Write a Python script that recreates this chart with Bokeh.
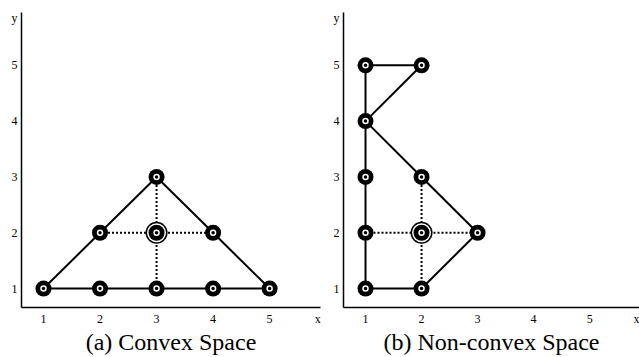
from bokeh.plotting import figure
from bokeh.layouts import row
from bokeh.models import Range1d, FixedTicker
from bokeh.embed import file_html
from bokeh.resources import INLINE

# ---- data ----
tick_vals = [1, 2, 3, 4, 5]

# (a) convex space
a_nodes_x = [1, 2, 3, 4, 5, 2, 4, 3]
a_nodes_y = [1, 1, 1, 1, 1, 2, 2, 3]
a_center = (3, 2)
a_solid = [((1, 1), (5, 1)), ((1, 1), (2, 2)), ((2, 2), (3, 3)),
           ((3, 3), (4, 2)), ((4, 2), (5, 1))]
a_dotted = [((2, 2), (4, 2)), ((3, 3), (3, 1))]

# (b) non-convex space
b_nodes_x = [1, 1, 1, 1, 1, 2, 2, 2, 3]
b_nodes_y = [1, 2, 3, 4, 5, 5, 3, 1, 2]
b_center = (2, 2)
b_solid = [((1, 1), (1, 5)), ((1, 5), (2, 5)), ((2, 5), (1, 4)),
           ((1, 4), (2, 3)), ((2, 3), (3, 2)), ((3, 2), (2, 1)),
           ((2, 1), (1, 1))]
b_dotted = [((1, 2), (3, 2)), ((2, 3), (2, 1))]

captions = ["(a) Convex Space", "(b) Non-convex Space"]

SERIF = "Liberation Serif"


def make_panel(width, border_left, border_right, x_start, x_end, x_lab_pos,
               nodes_x, nodes_y, center, solid, dotted, caption):
    p = figure(width=width, height=357, output_backend="svg",
               toolbar_location=None,
               x_range=Range1d(x_start, x_end), y_range=Range1d(0.661, 5.946),
               min_border_left=border_left, min_border_right=border_right,
               min_border_top=12, min_border_bottom=49)
    p.outline_line_color = None
    p.grid.visible = False
    p.background_fill_color = "white"

    # axes
    p.xaxis.ticker = FixedTicker(ticks=tick_vals + [x_lab_pos])
    p.xaxis.major_label_overrides = {x_lab_pos: "x"}
    p.yaxis.ticker = FixedTicker(ticks=tick_vals + [5.84])
    p.yaxis.major_label_overrides = {5.84: "y"}
    for ax in (p.xaxis, p.yaxis):
        ax.major_tick_line_color = None
        ax.minor_tick_line_color = None
        ax.major_tick_out = 0
        ax.major_tick_in = 0
        ax.axis_line_color = "black"
        ax.axis_line_width = 1.5
        ax.major_label_text_font = SERIF
        ax.major_label_text_font_size = "12px"
        ax.major_label_text_color = "black"
    p.xaxis.major_label_standoff = 4
    p.yaxis.major_label_standoff = 4

    # caption as the x axis label
    p.xaxis.axis_label = caption
    p.xaxis.axis_label_text_font = SERIF
    p.xaxis.axis_label_text_font_style = "normal"
    p.xaxis.axis_label_text_font_size = "24px"
    p.xaxis.axis_label_text_color = "black"
    p.xaxis.axis_label_standoff = 0

    # edges
    p.multi_line(xs=[[s[0][0], s[1][0]] for s in solid],
                 ys=[[s[0][1], s[1][1]] for s in solid],
                 line_color="black", line_width=2)
    p.multi_line(xs=[[s[0][0], s[1][0]] for s in dotted],
                 ys=[[s[0][1], s[1][1]] for s in dotted],
                 line_color="black", line_width=2, line_dash="2 2")

    # center node (double ring)
    p.scatter([center[0]], [center[1]], size=22, fill_color="black", line_color=None)
    p.scatter([center[0]], [center[1]], size=19, fill_color="white", line_color=None)
    # nodes
    p.scatter(nodes_x + [center[0]], nodes_y + [center[1]], size=16,
              fill_color="black", line_color=None)
    p.scatter(nodes_x + [center[0]], nodes_y + [center[1]], size=5,
              fill_color="black", line_color="white", line_width=1.5)
    return p


pa = make_panel(323, 21, 3, 0.611, 5.90, 5.85,
                a_nodes_x, a_nodes_y, a_center, a_solid, a_dotted, captions[0])
pb = make_panel(316, 20, 0, 0.607, 5.89, 5.87,
                b_nodes_x, b_nodes_y, b_center, b_solid, b_dotted, captions[1])

layout = row(pa, pb)
open("out.html", "w").write(file_html(layout, INLINE))
